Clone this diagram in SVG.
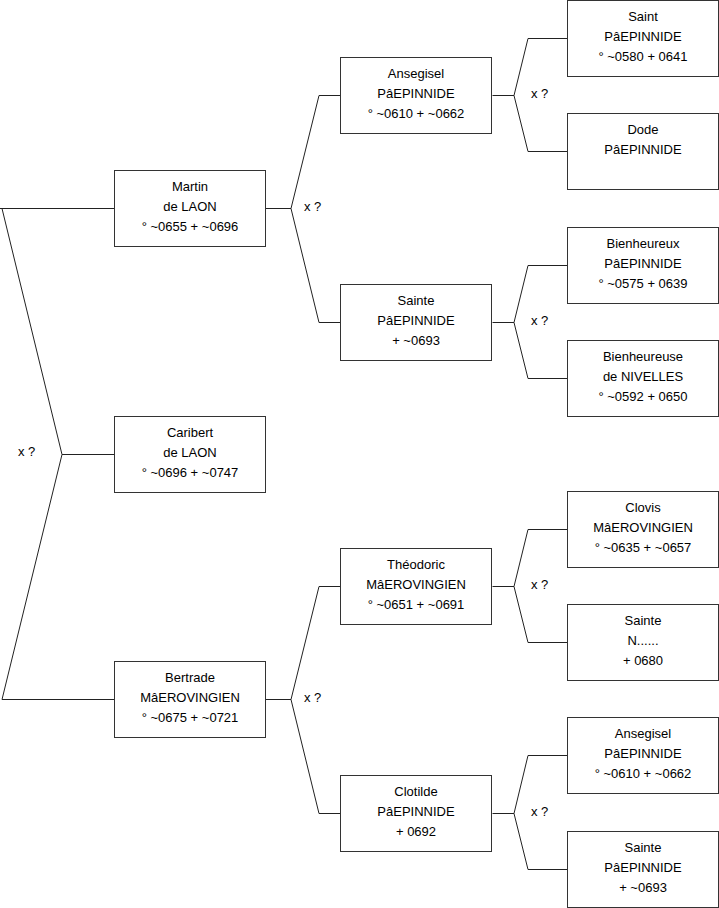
<svg xmlns="http://www.w3.org/2000/svg" width="719" height="908" viewBox="0 0 719 908">
<style>
rect.box{fill:#fff;stroke:#333;stroke-width:1}
text{font-family:"Liberation Sans",Arial,sans-serif;font-size:13px;fill:#000}
.c text{text-anchor:middle}
.conn path{fill:none;stroke:#222;stroke-width:1}
.lbl{text-anchor:start}
</style>
<rect width="719" height="908" fill="#fff"/>
<g class="conn" id="connectors">
<path d="M0,208.5 H114.5 M2,208.5 L62,454.5 L2,699.5 H114.5 M62,454.5 H114.5"/>
<path d="M265.5,208.5 H291 M319,95.5 L291,208.5 L319,322.5 M319,95.5 H340.5 M319,322.5 H340.5"/>
<path d="M265.5,699.5 H291 M319,586.5 L291,699.5 L319,813.5 M319,586.5 H340.5 M319,813.5 H340.5"/>
<path d="M492.5,95.5 H514 M528,38.5 L514,95.5 L528,151.5 M528,38.5 H567.5 M528,151.5 H567.5"/>
<path d="M492.5,322.5 H514 M528,265.5 L514,322.5 L528,378.5 M528,265.5 H567.5 M528,378.5 H567.5"/>
<path d="M492.5,586.5 H514 M528,529.5 L514,586.5 L528,642.5 M528,529.5 H567.5 M528,642.5 H567.5"/>
<path d="M492.5,813.5 H514 M528,755.5 L514,813.5 L528,869.5 M528,755.5 H567.5 M528,869.5 H567.5"/>
<text class="lbl" x="18" y="456">x ?</text>
<text class="lbl" x="304" y="211">x ?</text>
<text class="lbl" x="304" y="702">x ?</text>
<text class="lbl" x="531" y="98">x ?</text>
<text class="lbl" x="531" y="325">x ?</text>
<text class="lbl" x="531" y="589">x ?</text>
<text class="lbl" x="531" y="816">x ?</text>
</g>
<g id="martin" class="c"><rect class="box" x="114.5" y="170.5" width="151" height="76"/><text x="190" y="191">Martin</text><text x="190" y="211">de LAON</text><text x="190" y="231">° ~0655 + ~0696</text></g>
<g id="caribert" class="c"><rect class="box" x="114.5" y="416.5" width="151" height="76"/><text x="190" y="437">Caribert</text><text x="190" y="457">de LAON</text><text x="190" y="477">° ~0696 + ~0747</text></g>
<g id="bertrade" class="c"><rect class="box" x="114.5" y="661.5" width="151" height="76"/><text x="190" y="682">Bertrade</text><text x="190" y="702">MâEROVINGIEN</text><text x="190" y="722">° ~0675 + ~0721</text></g>
<g id="ansegisel1" class="c"><rect class="box" x="340.5" y="57.5" width="151" height="76"/><text x="416" y="78">Ansegisel</text><text x="416" y="98">PâEPINNIDE</text><text x="416" y="118">° ~0610 + ~0662</text></g>
<g id="sainte1" class="c"><rect class="box" x="340.5" y="284.5" width="151" height="76"/><text x="416" y="305">Sainte</text><text x="416" y="325">PâEPINNIDE</text><text x="416" y="345">+ ~0693</text></g>
<g id="theodoric" class="c"><rect class="box" x="340.5" y="548.5" width="151" height="76"/><text x="416" y="569">Théodoric</text><text x="416" y="589">MâEROVINGIEN</text><text x="416" y="609">° ~0651 + ~0691</text></g>
<g id="clotilde" class="c"><rect class="box" x="340.5" y="775.5" width="151" height="76"/><text x="416" y="796">Clotilde</text><text x="416" y="816">PâEPINNIDE</text><text x="416" y="836">+ 0692</text></g>
<g id="saint" class="c"><rect class="box" x="567.5" y="0.5" width="151" height="76"/><text x="643" y="21">Saint</text><text x="643" y="41">PâEPINNIDE</text><text x="643" y="61">° ~0580 + 0641</text></g>
<g id="dode" class="c"><rect class="box" x="567.5" y="113.5" width="151" height="76"/><text x="643" y="134">Dode</text><text x="643" y="154">PâEPINNIDE</text></g>
<g id="bienheureux" class="c"><rect class="box" x="567.5" y="227.5" width="151" height="76"/><text x="643" y="248">Bienheureux</text><text x="643" y="268">PâEPINNIDE</text><text x="643" y="288">° ~0575 + 0639</text></g>
<g id="bienheureuse" class="c"><rect class="box" x="567.5" y="340.5" width="151" height="76"/><text x="643" y="361">Bienheureuse</text><text x="643" y="381">de NIVELLES</text><text x="643" y="401">° ~0592 + 0650</text></g>
<g id="clovis" class="c"><rect class="box" x="567.5" y="491.5" width="151" height="76"/><text x="643" y="512">Clovis</text><text x="643" y="532">MâEROVINGIEN</text><text x="643" y="552">° ~0635 + ~0657</text></g>
<g id="sainteN" class="c"><rect class="box" x="567.5" y="604.5" width="151" height="76"/><text x="643" y="625">Sainte</text><text x="643" y="645">N......</text><text x="643" y="665">+ 0680</text></g>
<g id="ansegisel2" class="c"><rect class="box" x="567.5" y="717.5" width="151" height="76"/><text x="643" y="738">Ansegisel</text><text x="643" y="758">PâEPINNIDE</text><text x="643" y="778">° ~0610 + ~0662</text></g>
<g id="sainte2" class="c"><rect class="box" x="567.5" y="831.5" width="151" height="76"/><text x="643" y="852">Sainte</text><text x="643" y="872">PâEPINNIDE</text><text x="643" y="892">+ ~0693</text></g>
</svg>
